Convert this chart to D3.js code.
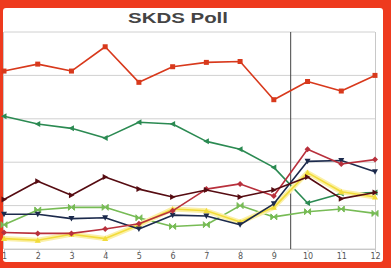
<!DOCTYPE html>
<html>
<head>
<meta charset="utf-8">
<script src="https://cdn.jsdelivr.net/npm/d3@7"></script>
<style>
  body { margin: 0; background: #ee3a1e; }
  svg { display: block; }
</style>
</head>
<body>
<script>
// poll rounds and party series (percent)
const rounds = [1, 2, 3, 4, 5, 6, 7, 8, 9, 10, 11, 12];
const yTicks = [0, 5, 10, 15, 20, 25];

const redVals    = [20.5, 21.3, 20.5, 23.3, 19.2, 21.0, 21.5, 21.6, 17.2, 19.3, 18.2, 20.0];
const greenVals  = [15.3, 14.4, 13.9, 12.8, 14.6, 14.4, 12.4, 11.5, 9.4, 5.3, 6.4, 6.5];
const maroonVals = [5.7, 7.8, 6.2, 8.3, 6.9, 6.0, 6.8, 6.0, 6.8, 8.3, 5.8, 6.5];
const crimsonVals = [1.9, 1.8, 1.8, 2.3, 2.9, 4.4, 6.9, 7.5, 6.1, 11.5, 9.8, 10.3];
const navyVals   = [4.0, 4.0, 3.5, 3.6, 2.3, 3.9, 3.8, 2.8, 5.2, 10.1, 10.2, 8.9];
const limeVals   = [2.8, 4.5, 4.8, 4.8, 3.6, 2.6, 2.8, 5.0, 3.7, 4.3, 4.6, 4.1];
const yellowVals = [1.2, 1.0, 1.7, 1.2, 2.8, 4.6, 4.4, 3.1, 4.8, 8.8, 6.6, 6.0];

const series = [
  { values: greenVals,   color: '#2b8a52', marker: 'tri-left' },
  { values: limeVals,    color: '#77bb55', marker: 'bowtie' },
  { values: yellowVals,  color: '#f2dc3a', marker: 'tri-up', glow: true },
  { values: navyVals,    color: '#1c2a4c', marker: 'tri-down' },
  { values: crimsonVals, color: '#b8303c', marker: 'diamond' },
  { values: maroonVals,  color: '#560c12', marker: 'tri-right' },
  { values: redVals,     color: '#d8391c', marker: 'square' }
];

const width = 391, height = 268;

const svg = d3.select('body').append('svg')
  .attr('width', width).attr('height', height);

// white card inside the red frame
svg.append('rect')
  .attr('x', 3).attr('y', 8)
  .attr('width', 380).attr('height', 254)
  .attr('rx', 3)
  .style('fill', '#fff');

const x = d3.scalePoint()
  .domain(rounds)
  .range([4, 375]);

const y = d3.scaleLinear()
  .domain([0, 25])
  .range([249, 32]);

svg.append('text')
  .attr('x', 178).attr('y', 23)
  .attr('text-anchor', 'middle')
  .attr('textLength', 100)
  .attr('lengthAdjust', 'spacingAndGlyphs')
  .style('font-family', 'Liberation Sans, Arial, sans-serif')
  .style('font-size', '14px')
  .style('font-weight', 'bold')
  .style('fill', '#444')
  .text('SKDS Poll');

// horizontal grid
svg.append('g')
  .selectAll('line')
  .data(yTicks)
  .enter()
  .append('line')
  .attr('x1', 4).attr('x2', 375)
  .attr('y1', d => y(d)).attr('y2', d => y(d))
  .style('stroke', '#d0d0d0')
  .style('stroke-width', 1);

// plot borders left/right
svg.append('line')
  .attr('x1', 3.5).attr('x2', 3.5).attr('y1', y(25)).attr('y2', y(0))
  .style('stroke', '#c8c8c8');
svg.append('line')
  .attr('x1', 375.5).attr('x2', 375.5).attr('y1', y(25)).attr('y2', y(0))
  .style('stroke', '#c8c8c8');

const xaxis = svg.append('g')
  .attr('transform', `translate(0, ${y(0)})`)
  .call(d3.axisBottom(x).tickSize(3).tickSizeOuter(0));
xaxis.select('.domain').style('stroke', '#c8c8c8');
xaxis.selectAll('.tick line').style('stroke', '#c8c8c8');
xaxis.selectAll('text')
  .attr('dy', '0.55em')
  .style('font-family', 'DejaVu Sans, sans-serif')
  .style('font-size', '8px')
  .style('fill', '#555');

// divider between round 9 and 10
const xMid = (x(9) + x(10)) / 2;
svg.append('line')
  .attr('x1', xMid).attr('x2', xMid)
  .attr('y1', y(25)).attr('y2', y(0))
  .style('stroke', '#444')
  .style('stroke-width', 1);

const markerPath = {
  'square': 'M-2.5,-2.5h5v5h-5z',
  'diamond': 'M0,-3L3,0L0,3L-3,0z',
  'tri-up': 'M0,-3L3,2.5L-3,2.5z',
  'tri-down': 'M0,3L3,-2.5L-3,-2.5z',
  'tri-left': 'M-3,0L2.5,-3L2.5,3z',
  'tri-right': 'M3,0L-2.5,-3L-2.5,3z',
  'bowtie': 'M-3,-3L0,0L-3,3zM3,-3L0,0L3,3z'
};

const line = d3.line()
  .x((d, i) => x(rounds[i]))
  .y(d => y(d));

series.forEach(s => {
  const g = svg.append('g');
  if (s.glow) {
    g.append('path')
      .attr('d', line(s.values))
      .style('fill', 'none')
      .style('stroke', '#fbf0a8')
      .style('stroke-width', 5)
      .style('stroke-linejoin', 'round');
  }
  g.append('path')
    .attr('d', line(s.values))
    .style('fill', 'none')
    .style('stroke', s.color)
    .style('stroke-width', 1.6)
    .style('stroke-linejoin', 'round');
  g.selectAll('path.mk')
    .data(s.values)
    .enter()
    .append('path')
    .attr('class', 'mk')
    .attr('transform', (d, i) => `translate(${x(rounds[i])}, ${y(d)})`)
    .attr('d', markerPath[s.marker])
    .style('fill', s.color)
    .style('stroke', s.marker === 'bowtie' ? s.color : 'none');
});
</script>
</body>
</html>
